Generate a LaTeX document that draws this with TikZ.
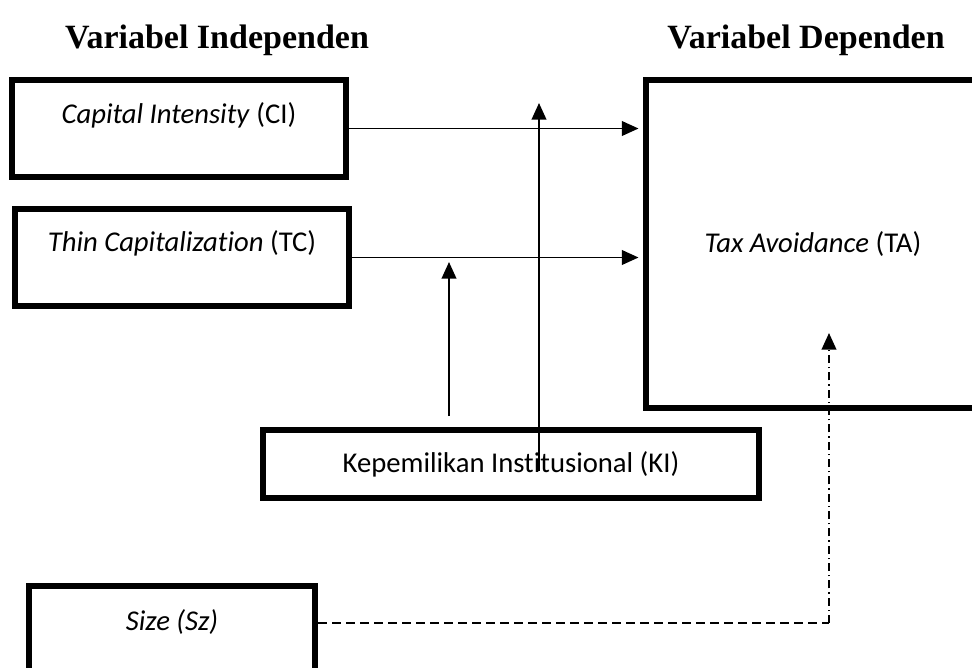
\documentclass[tikz,border=0pt]{standalone}
\usepackage{fontspec}
\setmainfont{Carlito}[Ligatures={NoCommon}]
\newfontfamily\headfont{Liberation Serif}
\usetikzlibrary{arrows.meta}

\begin{document}
\begin{tikzpicture}[x=0.75pt, y=-0.75pt, >={Triangle[length=12.5pt,width=11pt]},
  box/.style={draw, line width=4.5pt, inner sep=0pt},
  lbl/.style={font=\fontsize{21.5}{26}\selectfont},
  head/.style={font=\headfont\bfseries\fontsize{25.5}{30}\selectfont},
  link/.style={line width=1.4pt}]
  \useasboundingbox (0,0) rectangle (972,668);
  % judul kolom
  \node (indep) at (217,40) [head] {Variabel Independen};
  \node (dep) at (806,40) [head] {Variabel Dependen};
  % kotak variabel
  \node (ci) at (179,128.5) [box, minimum width=250.5pt, minimum height=72.75pt] {};
  \node (tc) at (182,257.5) [box, minimum width=250.5pt, minimum height=72.75pt] {};
  \node (ta) at (813,244) [box, lbl, minimum width=251.25pt, minimum height=246.4pt] {\textit{Tax Avoidance} (TA)};
  \node (ki) at (511,464) [box, lbl, minimum width=372pt, minimum height=51.4pt] {Kepemilikan Institusional (KI)};
  \node (sz) at (172,634.5) [box, minimum width=214.5pt, minimum height=72.75pt] {};
  \node (ci text) at (179,115) [lbl] {\textit{Capital Intensity} (CI)};
  \node (tc text) at (182,243) [lbl] {\textit{Thin Capitalization} (TC)};
  \node (sz text) at (172,622) [lbl] {\textit{Size (Sz)}};
  % panah
  \coordinate (up1 foot) at (539,471);
  \coordinate (up1 tip) at (539,103);
  \coordinate (up2 foot) at (449,416);
  \coordinate (up2 tip) at (449,262);
  \coordinate (sz turn) at (829,623);
  \coordinate (sz tip) at (829,333);
  \draw [link, ->, shorten >=3pt] (ci.east) -- (ci.east -| ta.west);
  \draw [link, ->, shorten >=3pt] (tc.east) -- (tc.east -| ta.west);
  \draw [link, ->] (up1 foot) -- (up1 tip);
  \draw [link, ->] (up2 foot) -- (up2 tip);
  \draw [link, dash pattern=on 6.75pt off 3.75pt] (sz turn -| sz.east) -- (sz turn);
  \draw [link, ->, dash pattern=on 6pt off 3pt on 1pt off 3pt] (sz turn) -- (sz tip);
\end{tikzpicture}
\end{document}
